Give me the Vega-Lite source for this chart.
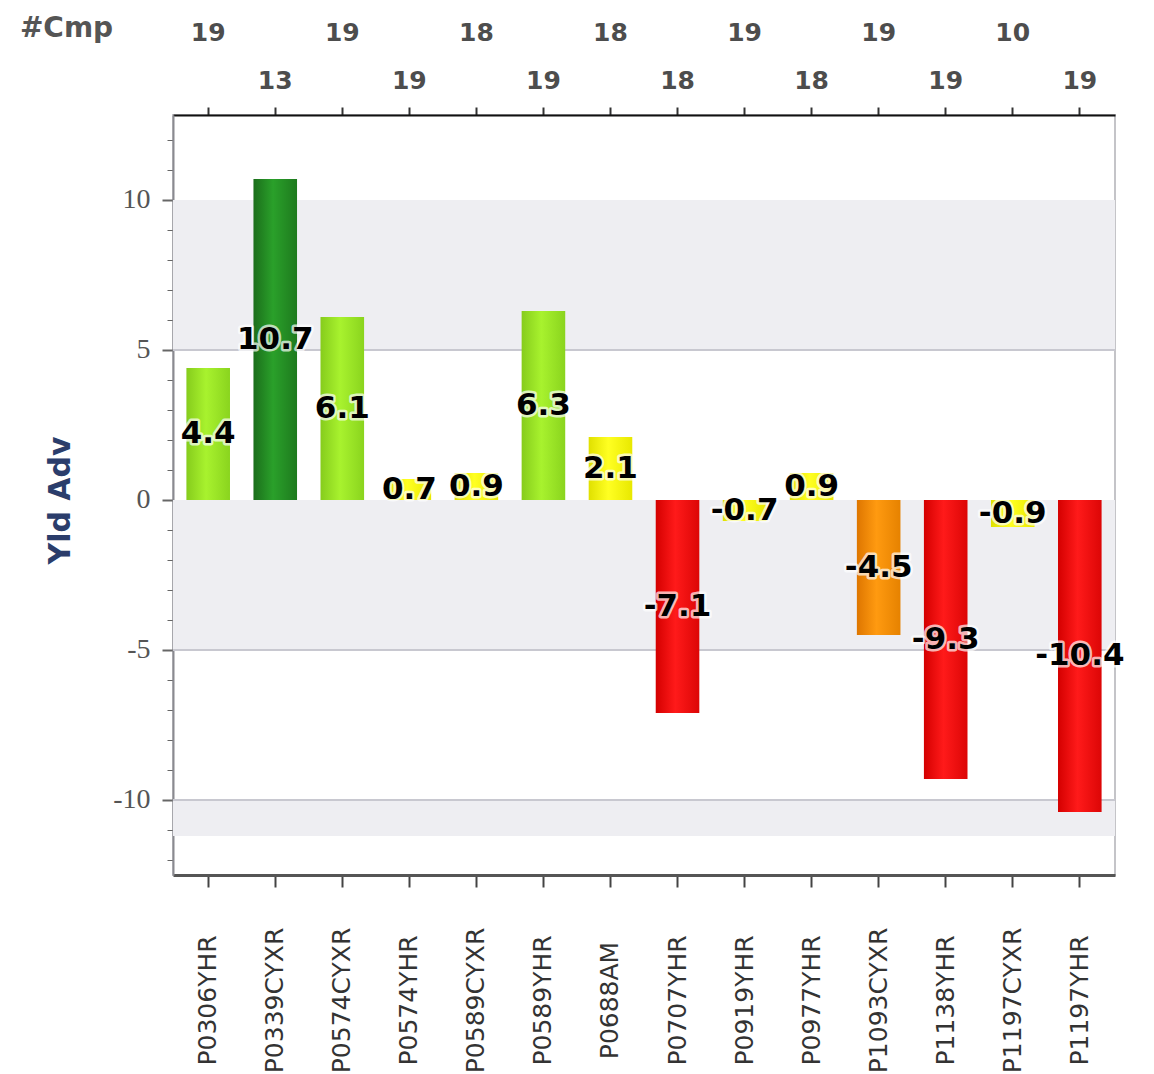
{
  "$schema": "https://vega.github.io/schema/vega-lite/v6.json",
  "width": 942,
  "height": 760,
  "autosize": {"type": "none"},
  "padding": {"left": 173, "top": 115, "right": 39, "bottom": 199},
  "background": "white",
  "view": {"stroke": "#c4c4c8", "strokeWidth": 2},
  "datasets": {
    "bars": [
      {"name": "P0306YHR", "value": 4.4, "grade": "good", "cmp": 19},
      {"name": "P0339CYXR", "value": 10.7, "grade": "best", "cmp": 13},
      {"name": "P0574CYXR", "value": 6.1, "grade": "good", "cmp": 19},
      {"name": "P0574YHR", "value": 0.7, "grade": "flat", "cmp": 19},
      {"name": "P0589CYXR", "value": 0.9, "grade": "flat", "cmp": 18},
      {"name": "P0589YHR", "value": 6.3, "grade": "good", "cmp": 19},
      {"name": "P0688AM", "value": 2.1, "grade": "flat", "cmp": 18},
      {"name": "P0707YHR", "value": -7.1, "grade": "worst", "cmp": 18},
      {"name": "P0919YHR", "value": -0.7, "grade": "flat", "cmp": 19},
      {"name": "P0977YHR", "value": 0.9, "grade": "flat", "cmp": 18},
      {"name": "P1093CYXR", "value": -4.5, "grade": "poor", "cmp": 19},
      {"name": "P1138YHR", "value": -9.3, "grade": "worst", "cmp": 19},
      {"name": "P1197CYXR", "value": -0.9, "grade": "flat", "cmp": 10},
      {"name": "P1197YHR", "value": -10.4, "grade": "worst", "cmp": 19}
    ],
    "bands": [
      {"lo": 5, "hi": 10},
      {"lo": 0, "hi": -5},
      {"lo": -10, "hi": -11.2}
    ],
    "lines": [
      {"v": 5},
      {"v": -5},
      {"v": -10}
    ]
  },
  "data": {"name": "bars"},
  "layer": [
    {
      "data": {"name": "bands"},
      "mark": {"type": "rect", "color": "#eeeef2"},
      "encoding": {
        "y": {"field": "lo", "type": "quantitative", "scale": {"domain": [-12.5, 12.8333], "nice": false, "zero": false}, "axis": null},
        "y2": {"field": "hi"}
      }
    },
    {
      "data": {"name": "lines"},
      "mark": {"type": "rule", "color": "#c8c8d0", "strokeWidth": 2},
      "encoding": {
        "y": {"field": "v", "type": "quantitative", "scale": {"domain": [-12.5, 12.8333], "nice": false, "zero": false}, "axis": null}
      }
    },
    {
      "mark": {"type": "bar"},
      "encoding": {
        "x": {
          "field": "name", "type": "nominal", "sort": null,
          "scale": {"paddingInner": 0.35, "paddingOuter": 0.2},
          "axis": {
            "orient": "bottom", "title": null, "labelAngle": 270, "labelAlign": "center", "labelBaseline": "middle",
            "labelPadding": 113, "labelFont": "DejaVu Sans", "labelFontSize": 25, "labelColor": "#333333",
            "labelOverlap": false, "tickSize": 12, "tickWidth": 2, "tickColor": "#444444",
            "domainColor": "#555555", "domainWidth": 3
          }
        },
        "y": {
          "field": "value", "type": "quantitative",
          "scale": {"domain": [-12.5, 12.8333], "nice": false, "zero": false},
          "axis": {
            "title": "Yld Adv", "grid": false,
            "values": [-12, -11, -10, -9, -8, -7, -6, -5, -4, -3, -2, -1, 0, 1, 2, 3, 4, 5, 6, 7, 8, 9, 10, 11, 12],
            "labelExpr": "datum.value % 5 == 0 ? '' + datum.value : ''",
            "labelOverlap": false, "labelFlush": false,
            "tickSize": {"condition": {"test": "datum.value % 5 == 0", "value": 11}, "value": 6},
            "tickWidth": {"condition": {"test": "datum.value % 5 == 0", "value": 2}, "value": 1},
            "tickColor": "#666666", "domainColor": "#8a8a90", "domainWidth": 2,
            "labelFont": "Liberation Serif", "labelFontSize": 28, "labelColor": "#555555", "labelPadding": 12,
            "titleFont": "DejaVu Sans", "titleFontSize": 30, "titleFontWeight": "bold", "titleColor": "#2b3d6b",
            "titleX": -113, "titleY": 385, "titleAngle": 270, "titleAlign": "center", "titleBaseline": "middle"
          }
        },
        "fill": {
          "condition": [
            {"test": "datum.grade == 'best'", "value": {"gradient": "linear", "x1": 0, "x2": 1, "y1": 0, "y2": 0, "stops": [{"offset": 0, "color": "#1b6e1b"}, {"offset": 0.45, "color": "#2aa02a"}, {"offset": 1, "color": "#1e7a1e"}]}},
            {"test": "datum.grade == 'good'", "value": {"gradient": "linear", "x1": 0, "x2": 1, "y1": 0, "y2": 0, "stops": [{"offset": 0, "color": "#86cc1c"}, {"offset": 0.45, "color": "#a8f22e"}, {"offset": 1, "color": "#8ad41e"}]}},
            {"test": "datum.grade == 'flat'", "value": {"gradient": "linear", "x1": 0, "x2": 1, "y1": 0, "y2": 0, "stops": [{"offset": 0, "color": "#e0e000"}, {"offset": 0.45, "color": "#ffff22"}, {"offset": 1, "color": "#e8e800"}]}},
            {"test": "datum.grade == 'poor'", "value": {"gradient": "linear", "x1": 0, "x2": 1, "y1": 0, "y2": 0, "stops": [{"offset": 0, "color": "#de7600"}, {"offset": 0.45, "color": "#ff9a10"}, {"offset": 1, "color": "#e68200"}]}}
          ],
          "value": {"gradient": "linear", "x1": 0, "x2": 1, "y1": 0, "y2": 0, "stops": [{"offset": 0, "color": "#d40000"}, {"offset": 0.45, "color": "#ff1a1a"}, {"offset": 1, "color": "#dc0606"}]}
        }
      }
    },
    {
      "mark": {"type": "text", "font": "DejaVu Sans", "fontSize": 31, "fontWeight": "bold", "baseline": "middle", "stroke": "white", "strokeWidth": 5, "strokeJoin": "round", "strokeOpacity": 0.7, "color": "white"},
      "encoding": {
        "x": {"field": "name", "type": "nominal", "sort": null, "axis": null},
        "y": {"field": "value", "type": "quantitative", "scale": {"domain": [-25, 25.6667], "nice": false, "zero": false}, "axis": null},
        "text": {"field": "value", "type": "nominal"}
      }
    },
    {
      "mark": {"type": "text", "font": "DejaVu Sans", "fontSize": 31, "fontWeight": "bold", "baseline": "middle", "color": "#000000"},
      "encoding": {
        "x": {"field": "name", "type": "nominal", "sort": null, "axis": null},
        "y": {"field": "value", "type": "quantitative", "scale": {"domain": [-25, 25.6667], "nice": false, "zero": false}, "axis": null},
        "text": {"field": "value", "type": "nominal"}
      }
    },
    {
      "transform": [{"window": [{"op": "row_number", "as": "rn"}]}, {"filter": "datum.rn % 2 == 1"}],
      "mark": {"type": "text", "font": "DejaVu Sans", "fontSize": 25, "fontWeight": "bold", "baseline": "middle", "color": "#4d4d4d"},
      "encoding": {
        "x": {
          "field": "name", "type": "nominal", "sort": null,
          "axis": {
            "orient": "top", "labels": false, "title": "#Cmp", "ticks": true, "tickSize": 8, "tickColor": "#333333", "tickWidth": 2,
            "domainColor": "#111111", "domainWidth": 2,
            "titleX": -107, "titleY": -87, "titleAngle": 0, "titleAlign": "center", "titleBaseline": "middle",
            "titleFont": "DejaVu Sans", "titleFontSize": 28, "titleFontWeight": "bold", "titleColor": "#555555"
          }
        },
        "y": {"datum": 15.57, "type": "quantitative", "scale": {"domain": [-12.5, 12.8333], "nice": false, "zero": false}, "axis": null},
        "text": {"field": "cmp", "type": "nominal"}
      }
    },
    {
      "transform": [{"window": [{"op": "row_number", "as": "rn"}]}, {"filter": "datum.rn % 2 == 0"}],
      "mark": {"type": "text", "font": "DejaVu Sans", "fontSize": 25, "fontWeight": "bold", "baseline": "middle", "color": "#4d4d4d"},
      "encoding": {
        "x": {"field": "name", "type": "nominal", "sort": null, "axis": null},
        "y": {"datum": 13.97, "type": "quantitative", "scale": {"domain": [-12.5, 12.8333], "nice": false, "zero": false}, "axis": null},
        "text": {"field": "cmp", "type": "nominal"}
      }
    }
  ],
  "resolve": {"scale": {"y": "independent"}, "axis": {"x": "independent", "y": "independent"}}
}
